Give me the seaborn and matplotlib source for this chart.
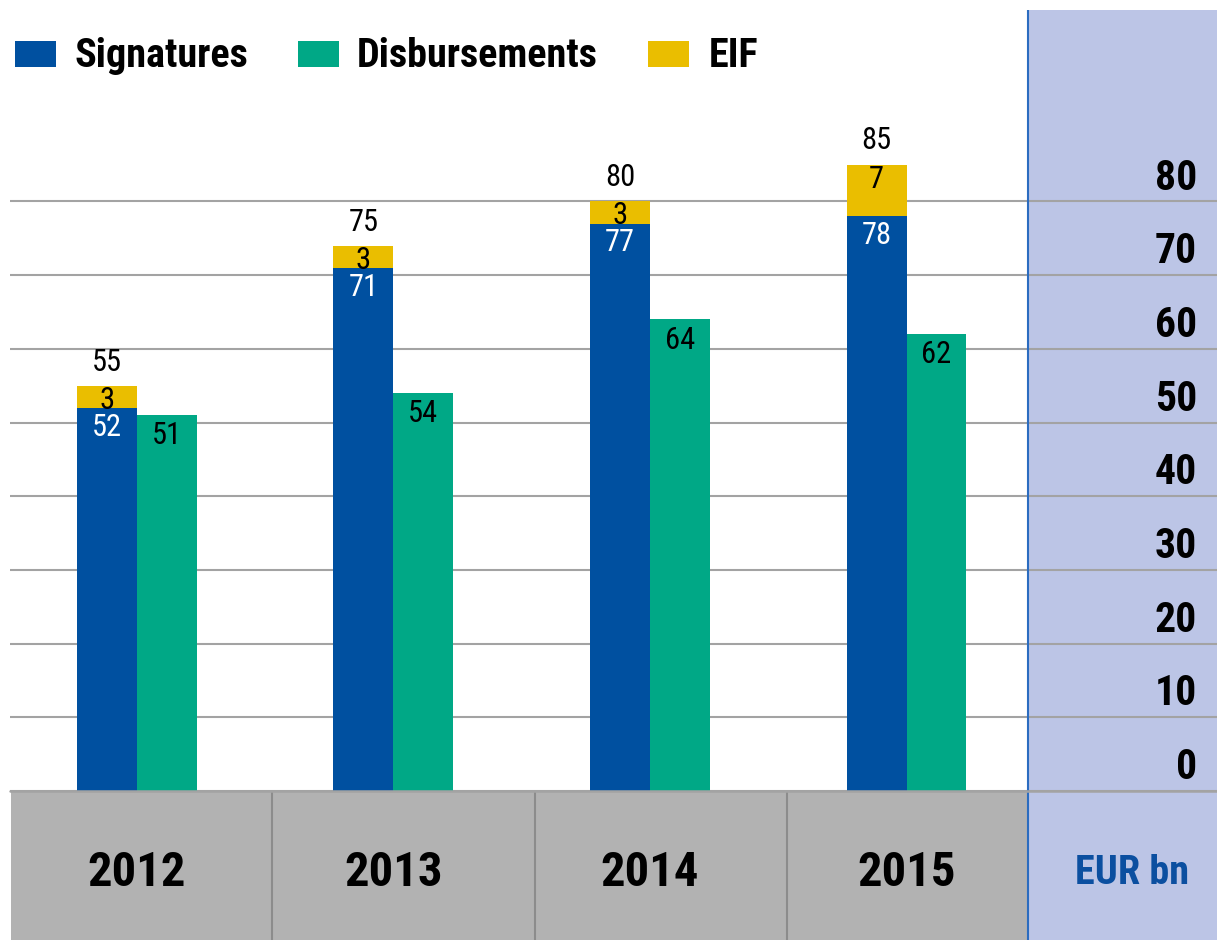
import matplotlib
matplotlib.use('Agg')
import matplotlib.pyplot as plt
import seaborn as sns
import pandas as pd
from matplotlib.patches import Rectangle
from matplotlib import font_manager
from matplotlib.font_manager import FontProperties

# ---- data ----
years = ['2012', '2013', '2014', '2015']
series = ['Signatures', 'Disbursements', 'EIF']
signatures = [52, 71, 77, 78]
disbursements = [51, 54, 64, 62]
eif = [3, 3, 3, 7]
totals = [55, 75, 80, 85]
yticks = [0, 10, 20, 30, 40, 50, 60, 70, 80]
unit_label = 'EUR bn'

# ---- styles ----
C_SIG = '#0050A0'
C_DIS = '#00A886'
C_EIF = '#EABE00'
C_LAV = '#BCC5E6'
C_GRAY = '#B2B2B2'
C_GRID = '#A3A3A3'
C_DIV = '#8C8C8C'
C_PLINE = '#2B6CC0'
C_UNIT = '#0B4FA0'

sns.set_theme(style='white')
plt.rcParams['font.family'] = ['Liberation Sans', 'DejaVu Sans']
plt.rcParams['text.color'] = 'black'


def pick_condensed(bold):
    pref = ['Liberation Sans Narrow', 'Roboto Condensed', 'Open Sans Condensed',
            'Noto Sans Condensed', 'DejaVu Sans Condensed', 'DejaVu Sans']
    best = None
    for f in font_manager.fontManager.ttflist:
        nm = f.name
        st = str(f.stretch).lower()
        cond = ('narrow' in nm.lower() or 'condensed' in nm.lower()
                or 'condensed' in st or 'narrow' in f.fname.lower()
                or 'condensed' in f.fname.lower())
        if not cond:
            continue
        if 'italic' in str(f.style).lower() or 'oblique' in str(f.style).lower():
            continue
        try:
            w = int(f.weight)
        except Exception:
            w = 700 if 'bold' in str(f.weight).lower() else 400
        target = 700 if bold else 400
        rank = pref.index(nm) if nm in pref else len(pref)
        score = (rank, abs(w - target))
        if best is None or score < best[0]:
            best = (score, f.fname)
    return best[1] if best else None


fb = pick_condensed(True)
fr = pick_condensed(False)


def fp(size, bold=False):
    fname = fb if bold else fr
    if fname:
        return FontProperties(fname=fname, size=size)
    return FontProperties(family=['Liberation Sans', 'DejaVu Sans'], size=size,
                          weight='bold' if bold else 'normal')


W, H = 1217, 940
fig = plt.figure(figsize=(W / 100, H / 100), dpi=100)
fig.patch.set_facecolor('white')


def px(x0, y0, x1, y1):
    return [x0 / W, 1 - y1 / H, (x1 - x0) / W, (y1 - y0) / H]


ax = fig.add_axes(px(10, 10, 1217, 791))
axb = fig.add_axes(px(10, 791, 1217, 940))

GROUP = 257.0
xmin, xmax = -127 / GROUP, 3 + 311 / GROUP
panel_x = 3 + 122 / GROUP

df = pd.DataFrame({
    'Year': years * 2,
    'Series': [series[0]] * 4 + [series[1]] * 4,
    'Value': signatures + disbursements,
})
sns.barplot(data=df, x='Year', y='Value', hue='Series',
            hue_order=series[:2],
            palette={series[0]: C_SIG, series[1]: C_DIS},
            width=120 / GROUP, dodge=True, saturation=1, linewidth=0,
            legend=False, ax=ax, zorder=3)

sig_bars = ax.containers[0]
dis_bars = ax.containers[1]
sig_x = [p.get_x() + p.get_width() / 2 for p in sig_bars]
bw = sig_bars[0].get_width()
dis_x = [p.get_x() + p.get_width() / 2 for p in dis_bars]
ax.bar(sig_x, eif, bottom=signatures, width=bw, color=C_EIF, linewidth=0, zorder=3)

ax.set_xlim(xmin, xmax)
ax.set_ylim(0, 781 / 7.37)
ax.axvspan(panel_x, xmax, color=C_LAV, lw=0, zorder=0)
ax.set_yticks(yticks)
ax.yaxis.grid(True, color=C_GRID, linewidth=1.5, zorder=1)
ax.set_axisbelow(True)
ax.tick_params(left=False, bottom=False, labelleft=False, labelbottom=False)
ax.set_xlabel('')
ax.set_ylabel('')
for s in ax.spines.values():
    s.set_visible(False)
ax.axvline(panel_x, color=C_PLINE, lw=1.5, zorder=4)

VS = 22
# value labels
for x, s, e, t in zip(sig_x, signatures, eif, totals):
    ax.annotate(str(s), (x, s), xytext=(0, -14), textcoords='offset points',
                ha='center', va='center', color='white', fontproperties=fp(VS), zorder=5)
    ax.annotate(str(e), (x, s + e), xytext=(0, -10.5), textcoords='offset points',
                ha='center', va='center', color='black', fontproperties=fp(VS), zorder=5)
    ax.annotate(str(t), (x, s + e), xytext=(0, 17), textcoords='offset points',
                ha='center', va='center', color='black', fontproperties=fp(VS), zorder=5)
for x, d in zip(dis_x, disbursements):
    ax.annotate(str(d), (x, d), xytext=(0, -15), textcoords='offset points',
                ha='center', va='center', color='black', fontproperties=fp(VS), zorder=5)

# y tick labels in the right panel
lab_x = 3 + (1197 - 906) / GROUP
for v in yticks:
    ax.annotate(str(v), (lab_x, v), xytext=(0, 8.5), textcoords='offset points',
                ha='right', va='baseline', fontproperties=fp(30, True), zorder=5)

# bottom band
axb.set_xlim(xmin, xmax)
axb.set_ylim(0, 1)
axb.axvspan(xmin + 1 / GROUP, panel_x, color=C_GRAY, lw=0, zorder=0)
axb.axvspan(panel_x, xmax, color=C_LAV, lw=0, zorder=0)
for dx in [135 / GROUP, 1 + 142 / GROUP, 2 + 137 / GROUP]:
    axb.axvline(dx, color=C_DIV, lw=1.5, zorder=1)
axb.axvline(panel_x, color=C_PLINE, lw=1.5, zorder=2)
axb.axhline(1, color=C_GRID, lw=1.8, zorder=3, clip_on=False)
axb.axis('off')
for i, yr in enumerate(years):
    axb.text(i, 0.45, yr, ha='center', va='center', fontproperties=fp(35, True))
axb.text(3 + (1132 - 906) / GROUP, 0.45, unit_label, ha='center', va='center',
         fontproperties=fp(29, True), color=C_UNIT)

# legend (placed like the reference: square then label, baseline at y=67px)
leg_sq_x = [15, 298, 648]
leg_tx_x = [75, 357, 709]
for sx, tx, name, col in zip(leg_sq_x, leg_tx_x, series, [C_SIG, C_DIS, C_EIF]):
    fig.patches.append(Rectangle((sx / W, 1 - 67 / H), 41 / W, 26 / H,
                                 transform=fig.transFigure, color=col, lw=0))
    fig.text(tx / W, 1 - 67 / H, name, ha='left', va='baseline',
             fontproperties=fp(29, True))

fig.savefig('out.png', dpi=100, facecolor='white')
